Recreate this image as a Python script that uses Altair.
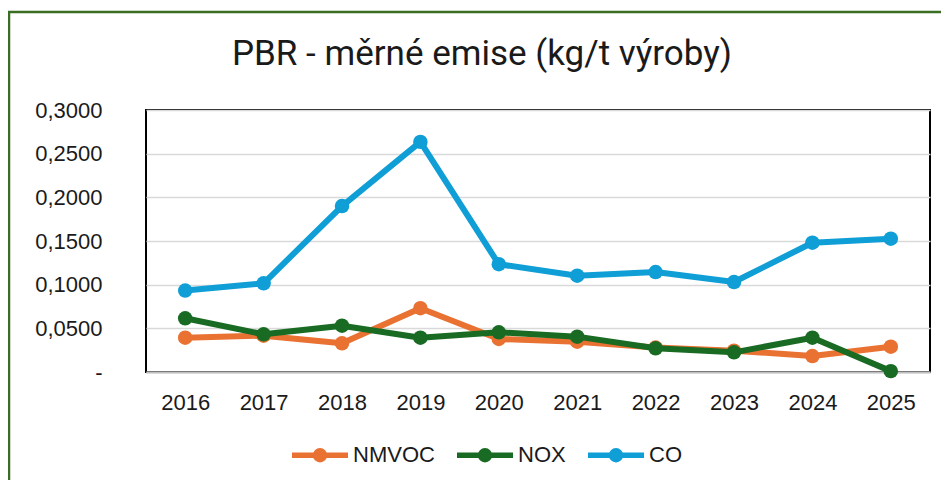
import altair as alt
import pandas as pd

years = [str(y) for y in range(2016, 2026)]
series_names = ["NMVOC", "NOX", "CO"]
nmvoc = [0.0393, 0.0416, 0.0328, 0.0730, 0.0378, 0.0347, 0.0280, 0.0244, 0.0183, 0.0290]
nox = [0.0615, 0.0432, 0.0530, 0.0393, 0.0455, 0.0405, 0.0271, 0.0225, 0.0393, 0.0010]
co = [0.0932, 0.1016, 0.1900, 0.2635, 0.1234, 0.1103, 0.1145, 0.1030, 0.1480, 0.1527]
colors = ["#E97132", "#196B24", "#0F9ED5"]
y_ticks = [0, 0.05, 0.1, 0.15, 0.2, 0.25, 0.3]
title_text = "PBR - měrné emise (kg/t výroby)"

rows = []
for name, vals in zip(series_names, [nmvoc, nox, co]):
    for yr, v in zip(years, vals):
        rows.append({"year": yr, "series": name, "value": v})
df = pd.DataFrame(rows)

FONT = "Liberation Sans"
NBSP = "\u00a0"

legend_path = ("M-1,0H1"
               "M0.16,0A0.16,0.16,0,1,1,-0.16,0A0.16,0.16,0,1,1,0.16,0"
               "M0.06,0A0.06,0.06,0,1,1,-0.06,0A0.06,0.06,0,1,1,0.06,0")

legend = alt.Legend(
    title=None, orient="none", legendX=143, legendY=314, direction="horizontal",
    symbolType=legend_path, symbolSize=3136, symbolStrokeWidth=5.5, symbolOpacity=1,
    labelFontSize=22, labelFont=FONT, labelColor="#1a1a1a", labelOffset=2,
    columnPadding=11, padding=0,
)

x_enc = alt.X(
    "year:O",
    sort=years,
    scale=alt.Scale(type="point", padding=0.5),
    axis=alt.Axis(title=None, labelAngle=0, labelFontSize=22, labelFont=FONT,
                  labelColor="#1a1a1a", labelPadding=20, ticks=False, tickSize=0,
                  domainColor="#BFBFBF", domainWidth=2, grid=False),
)
y_enc = alt.Y(
    "value:Q",
    scale=alt.Scale(domain=[0, 0.3], nice=False, zero=True),
    axis=alt.Axis(
        title=None, values=y_ticks,
        labelExpr="datum.value == 0 ? '-" + NBSP + "' : replace(format(datum.value, '.4f'), '.', ',')",
        ticks=False, tickSize=0, labelPadding=44, domain=False,
        gridColor="#D9D9D9", gridWidth=1.5, labelFontSize=22, labelFont=FONT,
        labelColor="#1a1a1a",
    ),
)
color_enc = alt.Color("series:N", scale=alt.Scale(domain=series_names, range=colors), legend=legend)

base = alt.Chart(df).encode(x=x_enc, y=y_enc, color=color_enc)

frame = alt.Chart(pd.DataFrame({"a": [0]})).mark_rect(
    fill="transparent", stroke="#3B6E22", strokeWidth=2.5
).encode(x=alt.value(-137), y=alt.value(-98), x2=alt.value(1000), y2=alt.value(600))

layers = [frame]
for s in series_names:
    sub = base.transform_filter(alt.datum.series == s)
    layers.append(sub.mark_line(strokeWidth=6, strokeJoin="round", strokeCap="round"))
    layers.append(sub.mark_point(filled=True, size=210, opacity=1, strokeWidth=0))

chart = alt.layer(*layers).properties(
    width=784, height=262,
    title=alt.TitleParams(title_text, fontSize=35, font="Roboto",
                          fontWeight="normal", anchor="middle", frame="group",
                          dx=-56, offset=0, dy=61, color="#1a1a1a"),
    autosize=alt.AutoSizeParams(type="none"),
    padding={"left": 138, "top": 102, "right": 11, "bottom": 108},
).configure_view(stroke="black", strokeWidth=2)

chart.save("out.html", embed_options={"renderer": "svg", "actions": False})
